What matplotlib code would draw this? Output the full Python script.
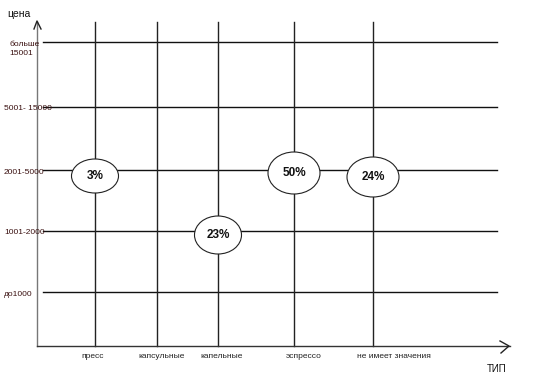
import matplotlib
matplotlib.use("Agg")
import matplotlib.pyplot as plt
from matplotlib.patches import Ellipse

# data
types = ["пресс", "капсульные", "капельные", "эспрессо", "не имеет значения"]
prices = ["до1000", "1001-2000", "2001-5000", "5001- 15000", "больше\n15001"]
share_type = [0, 2, 3, 4]          # index into types
share_price = [2, 1, 2, 2]         # index into prices
share_pct = [3, 23, 50, 24]

# layout (pixel coords of the drawing)
type_x = [95, 157, 218, 294, 373]
price_y = [292, 231, 170, 107, 42]
type_lbl_x = [93, 162, 222, 304, 394]
ell_size = [(47, 34), (47, 38), (52, 42), (52, 40)]
ell_dy = [6, 4, 3, 7]

plt.rcParams['font.family'] = ['Liberation Sans', 'DejaVu Sans']

fig = plt.figure(figsize=(5.6, 3.88), dpi=100)
ax = fig.add_axes([0, 0, 1, 1])
ax.set_xlim(0, 560)
ax.set_ylim(388, 0)
ax.axis('off')

ox, oy = 37, 346
lw = 1.0

# grid
for y in price_y:
    ax.plot([43, 497], [y, y], color='#111111', lw=lw, zorder=1)
for x in type_x:
    ax.plot([x, x], [22, oy], color='#222222', lw=lw, zorder=1)

# axes with arrows
ax.plot([ox, ox], [oy, 22], color='#777777', lw=lw, zorder=2)
ax.plot([ox - 3, ox, ox + 4], [29, 21, 29], color='#222222', lw=lw)
ax.plot([ox, 510], [oy, oy], color='#333333', lw=lw, zorder=2)
ax.plot([500, 509, 501], [341, 346, 353], color='#222222', lw=lw)

# labels
for i, lbl in enumerate(prices):
    if '\n' in lbl:
        ax.text(9, price_y[i] + 7, lbl, fontsize=6, ha='left', va='center',
                color='#3a1010', linespacing=1.5)
    else:
        ax.text(4, price_y[i] + 2, lbl, fontsize=6, ha='left', va='center',
                color='#3a1010')
for i, lbl in enumerate(types):
    ax.text(type_lbl_x[i], 357, lbl, fontsize=6, ha='center', va='center',
            color='#222222')
ax.text(7, 14, "цена", fontsize=7.5, ha='left', va='center', color='#111111')
ax.text(487, 369, "ТИП", fontsize=7, ha='left', va='center', color='#111111')

# percentages
for k in range(len(share_pct)):
    cx = type_x[share_type[k]]
    cy = price_y[share_price[k]] + ell_dy[k]
    w, h = ell_size[k]
    ax.add_patch(Ellipse((cx, cy), w, h, facecolor='white', edgecolor='#222222',
                         lw=0.8, zorder=3))
    ax.text(cx, cy, f"{share_pct[k]}%", fontsize=8.5, fontweight='bold',
            ha='center', va='center', color='#111111', zorder=4)

fig.savefig("out.png", dpi=100)
